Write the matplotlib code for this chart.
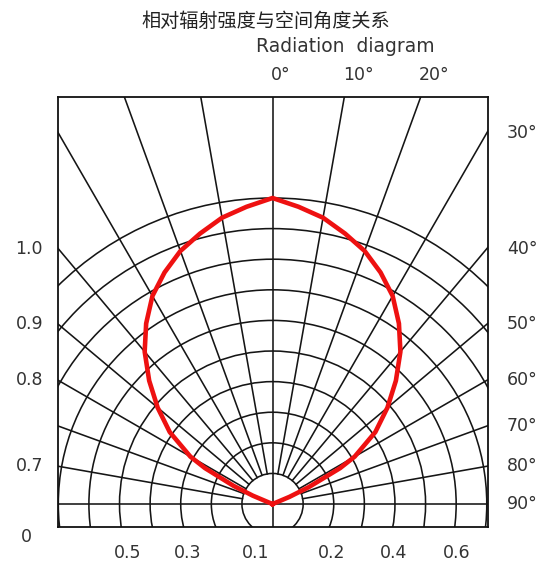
import numpy as np
import matplotlib
matplotlib.use("Agg")
import matplotlib.pyplot as plt
from matplotlib.patches import Circle

# ---- data ----
title_cn = "相对辐射强度与空间角度关系"
title_en = "Radiation  diagram"

ring_radii = [1, 2, 3, 4, 5, 6, 7, 8, 9, 10]
spoke_angles = [-80, -70, -60, -50, -40, -30, -20, -10, 10, 20, 30, 40, 50, 60, 70, 80]

curve_angles = [-70, -67, -65, -62, -60, -55, -50, -45, -40, -35, -30, -25, -20, -15, -10, -5, 0,
                5, 10, 15, 20, 25, 30, 35, 40, 45, 50, 55, 60, 62, 65, 67, 70]
curve_intensity = [0.0, 0.07, 0.14, 0.25, 0.31, 0.41, 0.49, 0.57, 0.65, 0.72, 0.785, 0.835,
                   0.88, 0.915, 0.95, 0.975, 1.0,
                   0.975, 0.95, 0.915, 0.88, 0.835, 0.785, 0.72, 0.65, 0.57, 0.49, 0.41,
                   0.31, 0.25, 0.13, 0.06, 0.0]

top_labels = ["0°", "10°", "20°"]
top_label_angles = [0, 10, 20]
right_labels = ["30°", "40°", "50°", "60°", "70°", "80°", "90°"]
right_label_angles = [30, 40, 50, 60, 70, 80, 90]
left_labels = ["1.0", "0.9", "0.8", "0.7"]
left_label_angles = [40, 50, 60, 80]
left_bottom_label = "0"
bottom_labels = ["0.5", "0.3", "0.1", "0.2", "0.4", "0.6"]
bottom_label_x = [-4.75, -2.76, -0.54, 1.94, 3.97, 6.03]

# ---- figure ----
W, H = 547, 565
fig = plt.figure(figsize=(W / 100, H / 100), dpi=100)
ax = fig.add_axes([58 / W, 38 / H, 430 / W, 430 / H])
XL, XR, YB, YT = -7.01, 7.04, -0.75, 13.30
ax.set_xlim(XL, XR)
ax.set_ylim(YB, YT)
ax.set_xticks([])
ax.set_yticks([])
for s in ax.spines.values():
    s.set_linewidth(1.3)
    s.set_color("#111111")

gc = "#151515"
glw = 1.15
for r in ring_radii:
    ax.add_patch(Circle((0, 0), r, fill=False, ec=gc, lw=glw))
for a in spoke_angles:
    t = np.radians(a)
    ax.plot([np.sin(t) * 1, np.sin(t) * 40], [np.cos(t) * 1, np.cos(t) * 40], color=gc, lw=glw)
ax.plot([0, 0], [YB - 1, YT + 1], color=gc, lw=glw)
ax.plot([XL - 1, XR + 1], [0, 0], color=gc, lw=glw)

th = np.radians(curve_angles)
rr = np.array(curve_intensity) * 10
ax.plot(rr * np.sin(th), rr * np.cos(th), color="#ee1111", lw=3.3,
        solid_joinstyle="round", zorder=5)

tc = "#333333"
fs = 12.5
for lab, a in zip(top_labels, top_label_angles):
    ax.text(YT * np.tan(np.radians(a)) - 0.05, 14.02, lab, ha="left", va="center",
            fontsize=fs, color=tc, clip_on=False)
for lab, a in zip(right_labels, right_label_angles):
    y = 7.0 / np.tan(np.radians(a))
    ax.text(7.66, y, lab, ha="left", va="center", fontsize=fs, color=tc, clip_on=False)
for lab, a in zip(left_labels, left_label_angles):
    y = 7.0 / np.tan(np.radians(a))
    ax.text(-7.5, y, lab, ha="right", va="center", fontsize=fs, color=tc, clip_on=False)
ax.text(-8.05, -1.08, left_bottom_label, ha="center", va="center", fontsize=fs,
        color=tc, clip_on=False)
for lab, x in zip(bottom_labels, bottom_label_x):
    ax.text(x, -1.6, lab, ha="center", va="center", fontsize=fs, color=tc, clip_on=False)

fig.text(266 / W, 1 - 21 / H, title_cn, ha="center", va="center", fontsize=13.8,
         family=["Noto Sans CJK SC", "DejaVu Sans"], color="#222222")
fig.text(345 / W, 1 - 46 / H, title_en, ha="center", va="center", fontsize=13.5,
         color=tc)

fig.savefig("out.png", dpi=100, facecolor="white")
